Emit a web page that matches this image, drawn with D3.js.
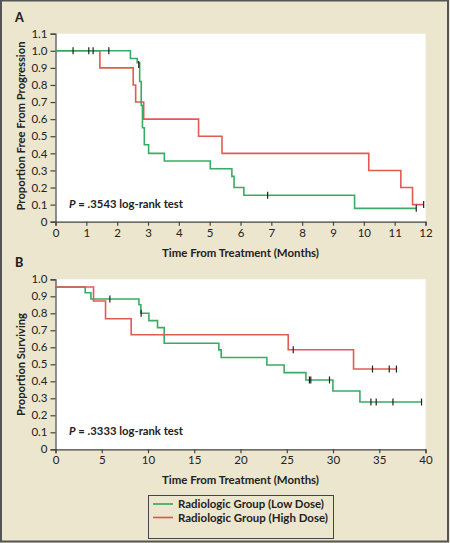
<!DOCTYPE html>
<html><head><meta charset="utf-8">
<script src="https://cdn.jsdelivr.net/npm/d3@7"></script>
<style>
html,body{margin:0;padding:0;background:#ede6cf;}
svg{display:block;}
text{font-family:Lato,"Open Sans",sans-serif;fill:#222;}
</style></head>
<body>
<svg id="c" width="450" height="543"></svg>
<script>
// ---------- DATA ----------
const xTicksA = [0,1,2,3,4,5,6,7,8,9,10,11,12];
const yTicksA = [0,0.1,0.2,0.3,0.4,0.5,0.6,0.7,0.8,0.9,1.0,1.1];
const xTicksB = [0,5,10,15,20,25,30,35,40];
const yTicksB = [0,0.1,0.2,0.3,0.4,0.5,0.6,0.7,0.8,0.9,1.0];

// Panel A: [time, survival after step]
const lowDoseA = [[0,1.0],[2.43,0.955],[2.65,0.93],[2.73,0.82],[2.78,0.68],[2.82,0.55],[2.88,0.45],[3.02,0.40],[3.53,0.355],[5.02,0.31],[5.72,0.265],[5.79,0.20],[6.11,0.155],[9.70,0.078],[11.7,0.078]];
const lowDoseCensorA = [[0.57,1.0],[1.08,1.0],[1.22,1.0],[1.73,1.0],[2.70,0.92],[6.88,0.155],[11.7,0.078]];
const highDoseA = [[0,1.0],[1.44,0.9],[2.52,0.8],[2.60,0.7],[2.86,0.6],[4.64,0.5],[5.40,0.4],[10.16,0.3],[11.2,0.2],[11.58,0.1],[11.94,0.1]];
const highDoseCensorA = [[11.94,0.1]];

// Panel B
const lowDoseB = [[0,0.955],[3.21,0.921],[3.83,0.884],[9.02,0.85],[9.23,0.80],[10.1,0.757],[11.03,0.716],[11.75,0.624],[17.66,0.585],[17.91,0.54],[22.85,0.496],[24.72,0.451],[27.07,0.408],[29.99,0.343],[32.91,0.278],[39.57,0.278]];
const lowDoseCensorB = [[5.88,0.884],[9.26,0.80],[27.45,0.408],[27.6,0.408],[29.62,0.408],[34.1,0.278],[34.67,0.278],[36.48,0.278],[39.57,0.278]];
const highDoseB = [[0,0.955],[4.11,0.872],[5.41,0.768],[8.18,0.674],[25.16,0.586],[32.22,0.472],[36.86,0.472]];
const highDoseCensorB = [[25.7,0.586],[34.27,0.472],[36.08,0.472],[36.86,0.472]];

const seriesNames = ["Radiologic Group (Low Dose)","Radiologic Group (High Dose)"];
const panelLabels = ["A","B"];
const yTitles = ["Proportion Free From Progression","Proportion Surviving"];
const xTitle = "Time From Treatment (Months)";
const pTexts = [".3543 log-rank test",".3333 log-rank test"];

// ---------- STYLE ----------
const GREEN = "#2fa75c", RED = "#e0524a", AXIS = "#444";
const svg = d3.select("#c");

svg.append("rect").attr("x",1).attr("y",0.5).attr("width",447).attr("height",541)
  .attr("fill","#ede6cf").attr("stroke","#555").attr("stroke-width",2);

function panel(cfg){
  const x = d3.scaleLinear().domain(cfg.xDomain).range([55.5,425.5]);
  const y = d3.scaleLinear().domain(cfg.yDomain).range([cfg.bottom,cfg.top]);
  const g = svg.append("g");
  g.append("rect").attr("x",x(cfg.xDomain[0])).attr("y",cfg.top)
    .attr("width",x(cfg.xDomain[1])-x(cfg.xDomain[0])).attr("height",cfg.bottom-cfg.top).attr("fill","#fff");

  const xa = g.append("g").attr("transform",`translate(0,${cfg.bottom})`)
    .call(d3.axisBottom(x).tickValues(cfg.xTicks).tickSize(4).tickPadding(3).tickFormat(d3.format("d")));
  const ya = g.append("g").attr("transform",`translate(${x(cfg.xDomain[0])},0)`)
    .call(d3.axisLeft(y).tickValues(cfg.yTicks).tickSize(5).tickPadding(3).tickFormat(d=> d===0?"0":d3.format(".1f")(d)));
  [xa,ya].forEach(a=>{
    a.select(".domain").attr("stroke",AXIS).attr("stroke-width",1.2);
    a.selectAll(".tick line").attr("stroke",AXIS).attr("stroke-width",1.2);
    a.selectAll("text").attr("font-size",11.5).attr("fill","#222").style("font-family","Lato,sans-serif");
  });

  const line = d3.line().x(d=>x(d[0])).y(d=>y(d[1])).curve(d3.curveStepAfter);
  cfg.order.forEach(s=>{
    g.append("path").attr("d",line(s.data)).attr("fill","none")
      .attr("stroke",s.color).attr("stroke-width",1.6).attr("stroke-opacity",0.95);
  });
  cfg.order.forEach(s=>{
    g.selectAll(null).data(s.censor).enter().append("line")
      .attr("x1",d=>x(d[0])).attr("x2",d=>x(d[0]))
      .attr("y1",d=>y(d[1])-3.5).attr("y2",d=>y(d[1])+3.5)
      .attr("stroke","#222").attr("stroke-width",1.2);
  });

  g.append("text").attr("x",15).attr("y",cfg.labelY).attr("font-size",12.5).attr("font-weight",900).text(cfg.label);
  g.append("text").attr("transform",`translate(24.5,${cfg.yTitleC}) rotate(-90)`)
    .attr("text-anchor","middle").attr("font-size",12).attr("font-weight",700)
    .attr("textLength",cfg.yTitleLen).attr("lengthAdjust","spacingAndGlyphs").text(cfg.yTitle);
  g.append("text").attr("x",240.5).attr("y",cfg.bottom+35).attr("text-anchor","middle")
    .attr("font-size",12).attr("font-weight",700)
    .attr("textLength",157).attr("lengthAdjust","spacingAndGlyphs").text(xTitle);
  const pt = g.append("text").attr("x",69).attr("y",cfg.pY).attr("font-size",12).attr("font-weight",700)
    .attr("textLength",114).attr("lengthAdjust","spacingAndGlyphs");
  pt.append("tspan").attr("font-style","italic").text("P");
  pt.append("tspan").text(" = " + cfg.p);
}

panel({xDomain:[0,12],yDomain:[0,1.1],xTicks:xTicksA,yTicks:yTicksA,top:33.7,bottom:221.7,
  order:[{data:highDoseA,censor:highDoseCensorA,color:RED},{data:lowDoseA,censor:lowDoseCensorA,color:GREEN}],
  label:panelLabels[0],labelY:22,yTitle:yTitles[0],yTitleC:126,yTitleLen:169,p:pTexts[0],pY:208});
panel({xDomain:[0,40],yDomain:[0,1.0],xTicks:xTicksB,yTicks:yTicksB,top:279.3,bottom:449.3,
  order:[{data:lowDoseB,censor:lowDoseCensorB,color:GREEN},{data:highDoseB,censor:highDoseCensorB,color:RED}],
  label:panelLabels[1],labelY:266.5,yTitle:yTitles[1],yTitleC:364.5,yTitleLen:103,p:pTexts[1],pY:435});

// legend
const lg = svg.append("g");
lg.append("rect").attr("x",148.5).attr("y",495.5).attr("width",185).attr("height",43)
  .attr("fill","#ede6cf").attr("stroke","#444").attr("stroke-width",1);
const legLens = [146,150];
[GREEN,RED].forEach((c,i)=>{
  const yy = 504 + i*13.5;
  lg.append("line").attr("x1",153).attr("x2",173).attr("y1",yy).attr("y2",yy).attr("stroke",c).attr("stroke-width",1.6);
  lg.append("text").attr("x",178).attr("y",yy+4).attr("font-size",12).attr("font-weight",700)
    .attr("textLength",legLens[i]).attr("lengthAdjust","spacingAndGlyphs").text(seriesNames[i]);
});
</script>
</body></html>
